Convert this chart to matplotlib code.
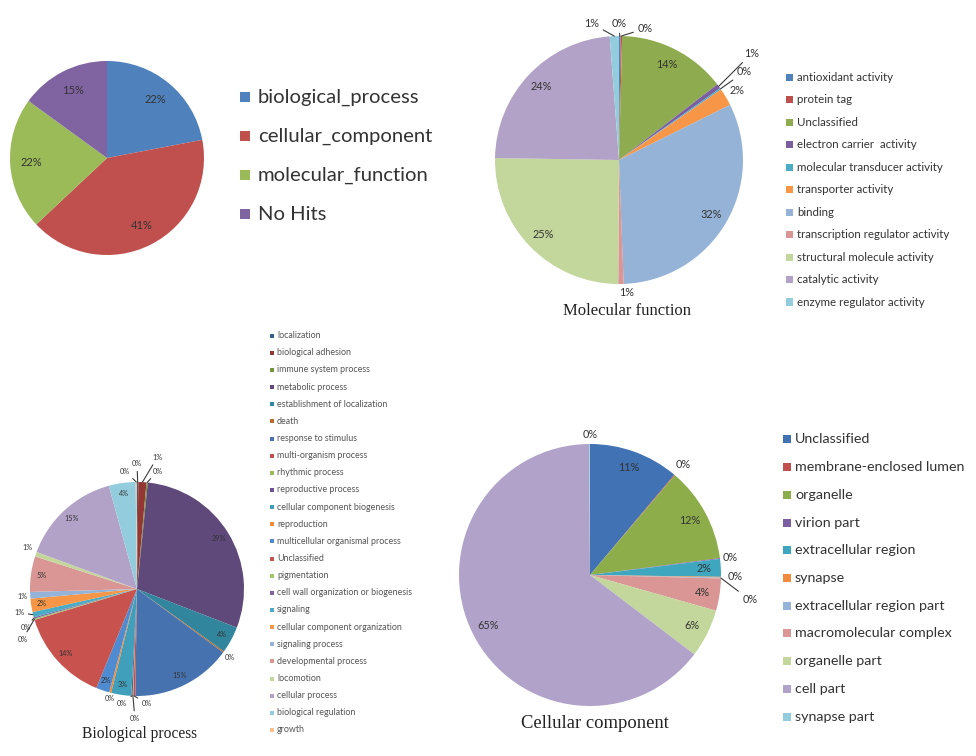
import numpy as np
import matplotlib.pyplot as plt
from matplotlib.patches import Rectangle

# ---------------- data ----------------
overview_labels = ["biological_process", "cellular_component", "molecular_function", "No Hits"]
overview_values = [22, 41, 22, 15]

mf_labels = ["antioxidant activity", "protein tag", "Unclassified", "electron carrier  activity",
             "molecular transducer activity", "transporter activity", "binding",
             "transcription regulator activity", "structural molecule activity",
             "catalytic activity", "enzyme regulator activity"]
mf_values = [0.2, 0.2, 14.2, 0.6, 0.2, 2.3, 31.8, 0.7, 25.2, 23.6, 1.2]

bp_labels = ["localization", "biological adhesion", "immune system process", "metabolic process",
             "establishment of localization", "death", "response to stimulus",
             "multi-organism process", "rhythmic process", "reproductive process",
             "cellular component biogenesis", "reproduction", "multicellular organismal process",
             "Unclassified", "pigmentation", "cell wall organization or biogenesis", "signaling",
             "cellular component organization", "signaling process", "developmental process",
             "locomotion", "cellular process", "biological regulation", "growth"]
bp_values = [0.2, 1.2, 0.2, 29, 4, 0.2, 15, 0.3, 0.1, 0.2, 3, 0.3, 2, 14,
             0.2, 0.2, 0.8, 2, 1, 5.3, 0.7, 15, 4, 0.2]

cc_labels = ["Unclassified", "membrane-enclosed lumen", "organelle", "virion part",
             "extracellular region", "synapse", "extracellular region part",
             "macromolecular complex", "organelle part", "cell part", "synapse part"]
cc_values = [11.2, 0.1, 11.8, 0.1, 2.2, 0.1, 0.1, 4, 6, 65, 0.1]

# ---------------- colours ----------------
overview_colors = ["#4F81BD", "#C0504D", "#9BBB59", "#8064A2"]
mf_colors = ["#4F81BD", "#C0504D", "#8EAC4F", "#7B5EA0", "#4BACC6", "#F79646",
             "#95B3D7", "#D99694", "#C3D69B", "#B3A2C7", "#93CDDD"]
bp_colors = ["#3A5F8E", "#943634", "#76923C", "#5F497A", "#31859C", "#B96A2C",
             "#4673B0", "#C0504D", "#9BBB59", "#6A5490", "#40A0BB", "#F28A38",
             "#4F8BD0", "#C8524E", "#A6C46A", "#8064A2", "#4BACC6", "#F79646",
             "#95B3D7", "#D99694", "#C3D69B", "#B3A2C7", "#93CDDD", "#FAC090"]
cc_colors = ["#4172B4", "#C0504D", "#8DAD4B", "#7C5EA0", "#3FA6C0", "#F08A3C",
             "#95B3D7", "#D99694", "#C3D69B", "#B0A2C8", "#93CDDD"]

W, H = 976, 756
TXT = "#333333"
LIM = 1.6
fig = plt.figure(figsize=(W / 100, H / 100), dpi=100)


def draw_pie(cx, cy, r, values, colors, fs, dist, label_pos={}, leaders=()):
    ax = fig.add_axes([(cx - LIM * r) / W, 1 - (cy + LIM * r) / H,
                       2 * LIM * r / W, 2 * LIM * r / H])
    wedges, _ = ax.pie(values, colors=colors, startangle=90, counterclock=False,
                       radius=1, wedgeprops=dict(linewidth=0))
    # pie() resets the limits, so set them afterwards
    ax.set_xlim(-LIM, LIM)
    ax.set_ylim(-LIM, LIM)
    ax.set_aspect("equal")
    ax.axis("off")
    total = sum(values)
    for i, w in enumerate(wedges):
        txt = f"{round(values[i] / total * 100)}%"
        ang = np.deg2rad((w.theta1 + w.theta2) / 2)
        rim = (np.cos(ang), np.sin(ang))
        pos = label_pos.get(i, (dist * rim[0], dist * rim[1]))
        if i in leaders:
            ax.annotate(txt, xy=rim, xytext=pos, ha="center", va="center", fontsize=fs,
                        color=TXT, family="Lato",
                        arrowprops=dict(arrowstyle="-", lw=0.8, color="#3a3a3a",
                                        shrinkA=1, shrinkB=0))
        else:
            ax.text(pos[0], pos[1], txt, ha="center", va="center", fontsize=fs,
                    color=TXT, family="Lato")
    return ax


def draw_legend(x_sq, x_txt, y0, step, sq, labels, colors, fs, color=TXT):
    for i, (lab, c) in enumerate(zip(labels, colors)):
        y = y0 + i * step
        fig.add_artist(Rectangle((x_sq / W, 1 - (y + sq / 2) / H), sq / W, sq / H,
                                 transform=fig.transFigure, facecolor=c, edgecolor="none"))
        fig.text(x_txt / W, 1 - y / H, lab, ha="left", va="center", fontsize=fs,
                 color=color, family="Lato")


# ---- overview pie (top left) ----
draw_pie(107, 158, 97, overview_values, overview_colors, 8, 0.78)
draw_legend(240, 258, 97, 39, 10, overview_labels, overview_colors, 14.6)

# ---- molecular function (top right) ----
mf_pos = {0: (0.0, 1.10), 1: (0.21, 1.06), 3: (1.07, 0.86), 4: (1.01, 0.71),
          5: (0.95, 0.56), 7: (0.06, -1.07), 10: (-0.22, 1.10)}
draw_pie(619, 160, 124, mf_values, mf_colors, 7.8, 0.86, mf_pos, leaders=(0, 1, 3, 4, 10))
draw_legend(786, 797, 77.3, 22.47, 7, mf_labels, mf_colors, 8.3)
fig.text(627 / W, 1 - 311 / H, "Molecular function", ha="center", va="center",
         fontsize=12, family="Liberation Serif", color="#222222")

# ---- biological process (bottom left) ----
bp_pos = {0: (0.0, 1.17), 1: (0.19, 1.23), 2: (0.19, 1.10), 5: (0.87, -0.64),
          7: (0.09, -1.07), 8: (-0.02, -1.21), 9: (-0.14, -1.07), 11: (-0.25, -1.02),
          14: (-1.07, -0.47), 15: (-1.04, -0.36), 16: (-1.10, -0.22),
          18: (-1.07, -0.07), 20: (-1.02, 0.39), 23: (-0.11, 1.10)}
draw_pie(137, 589, 107, bp_values, bp_colors, 5.2, 0.9, bp_pos,
         leaders=(0, 1, 2, 7, 8, 9, 14, 15, 16, 23))
draw_legend(270, 277, 335.7, 17.14, 4, bp_labels, bp_colors, 6.4, color="#555555")
fig.text(140 / W, 1 - 734 / H, "Biological process", ha="center", va="center",
         fontsize=11.2, family="Liberation Serif", color="#222222")

# ---- cellular component (bottom right) ----
cc_pos = {1: (0.71, 0.84), 3: (1.07, 0.13), 5: (1.11, -0.01), 6: (1.22, -0.19),
          10: (0.0, 1.07)}
draw_pie(590, 575, 131, cc_values, cc_colors, 7.8, 0.87, cc_pos, leaders=(6,))
draw_legend(783, 795, 439.3, 27.74, 8, cc_labels, cc_colors, 10.3)
fig.text(595 / W, 1 - 723 / H, "Cellular component", ha="center", va="center",
         fontsize=13.4, family="Liberation Serif", color="#222222")

fig.savefig("out.png", dpi=100, facecolor="white")
